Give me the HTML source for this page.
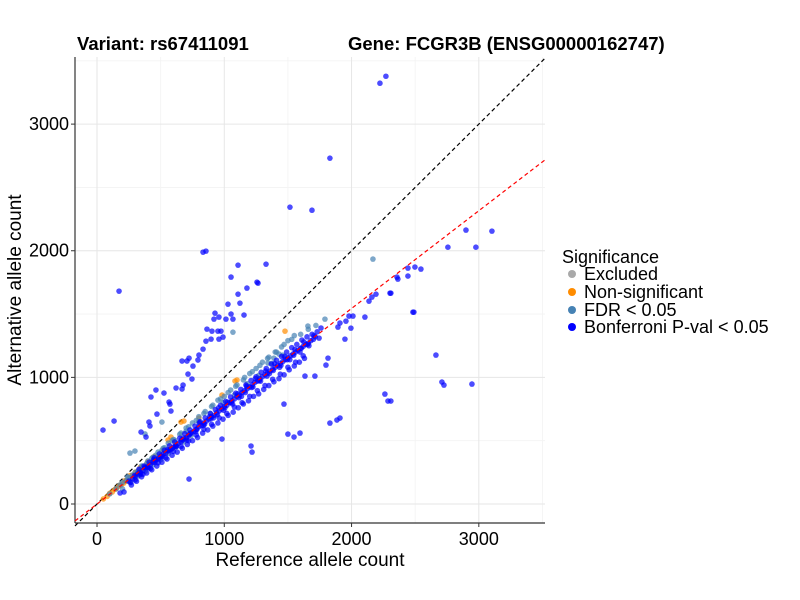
<!DOCTYPE html>
<html><head><meta charset="utf-8"><style>
body{margin:0;background:#fff;font-family:"Liberation Sans",Arial,sans-serif}
svg{display:block}
</style></head><body>
<svg id="chart" width="800" height="600">
<text x="77" y="50" font-size="18.5" font-weight="bold">Variant: rs67411091</text>
<text x="348" y="50" font-size="18.5" font-weight="bold">Gene: FCGR3B (ENSG00000162747)</text>
<g id="grid"></g>
<g id="lines"></g>
<g id="points"></g>
<g id="axes"></g>
<text x="310" y="566" font-size="19" text-anchor="middle">Reference allele count</text>
<text transform="translate(21,290) rotate(-90)" font-size="19" text-anchor="middle">Alternative allele count</text>
<g>
<text x="562" y="263" font-size="18">Significance</text>
<g><circle cx="572" cy="274" r="4" fill="#a9a9a9"/><text x="584" y="280" font-size="18">Excluded</text></g>
<g><circle cx="572" cy="292" r="4" fill="#ff8c00"/><text x="584" y="298" font-size="18">Non-significant</text></g>
<g><circle cx="572" cy="310" r="4" fill="#4682b4"/><text x="584" y="316" font-size="18">FDR &lt; 0.05</text></g>
<g><circle cx="572" cy="327" r="4" fill="#0000ff"/><text x="584" y="333" font-size="18">Bonferroni P-val &lt; 0.05</text></g>
</g>
</svg>
<script>
const xTicks=[0,1000,2000,3000];
const yTicks=[0,1000,2000,3000];
const minorTicks=[500,1500,2500,3500];
const redSlope=0.772;
const blueX=[2270,2223,1830,1516,1689,833,856,173,1108,1265,2977,3103,1328,1053,1257,1178,1108,1029,1123,927,958,919,1013,1053,1068,1155,864,903,950,974,990,958,856,896,833,801,793,754,723,668,707,715,746,621,676,668,463,526,424,566,573,471,581,408,416,134,47,346,385,723,1210,1218,982,1500,1548,1469,1634,1712,1830,1885,1909,2262,2286,2309,2482,2302,1948,1799,1815,1995,2105,2011,2899,2757,2443,2498,2545,2443,2357,2364,2309,2192,2160,2137,1980,1956,1909,1893,2490,2726,2663,2710,2946,1595,181,212,
250,280,300,320,340,360,380,400,420,440,460,480,500,520,540,560,580,600,620,640,660,680,700,720,740,760,780,800,820,840,860,880,900,920,940,960,980,1000,1020,1040,1060,1080,1100,1120,1140,1160,1180,1200,1220,1240,1260,1280,1300,1320,1340,1360,1380,1400,1420,1440,1460,1480,1500,1520,1540,1560,1580,1600,1620,1640,1660,1680,1700,
270,310,350,390,430,470,510,550,590,630,670,710,750,790,830,870,910,950,990,1030,1070,1110,1150,1190,1230,1270,1310,1350,1390,1430,1470,1510,1550,1590,1630,
330,370,410,450,490,530,570,610,650,690,730,770,810,850,890,930,970,1010,1050,1090,1130,1170,1210,1250,1290,1330,1370,1410,1450,1490,1530,1570,1610,1650,1690,1730,1760,
265,295,335,375,405,445,485,515,555,595,625,665,705,735,775,805,845,885,915,955,995,1025,1065,1105,1135,1175,1215,1245,1285,1325,1355,1395,1435,1475,1515,1555,1595,1625,1665,1705,1745,
300,360,420,480,540,600,660,720,780,840,900,960,1020,1080,1140,1200,1260,1320,1380,1440,1500,1560,1620,
345,395,455,505,565,615,675,725,785,835,895,945,1005,1055,1115,1165,1225,1275,1335,1385,1445,1495,1545,1605,1655,1715];
const blueY=[3378,3323,2731,2344,2320,1989,1997,1681,1886,1744,2028,2155,1894,1792,1752,1705,1657,1578,1586,1507,1476,1460,1460,1500,1460,1492,1381,1365,1365,1365,1318,1302,1286,1302,1223,1176,1137,1089,1152,1129,1129,1026,987,916,939,908,900,876,845,805,789,710,734,647,616,655,584,568,529,197,458,410,513,552,529,789,1010,1010,639,663,679,868,813,813,1515,1665,1302,1097,1152,1389,1476,1484,2163,2028,1863,1871,1855,1800,1792,1776,1665,1657,1634,1602,1484,1444,1429,1397,1515,939,1176,963,947,560,87,95,
180,200,215,240,250,265,285,295,310,330,345,355,370,395,400,420,430,450,460,480,490,520,525,545,560,575,590,610,620,640,655,670,690,700,720,735,750,770,780,800,815,830,850,860,880,895,910,925,940,960,970,990,1005,1020,1035,1050,1065,1080,1095,1110,1125,1140,1155,1170,1185,1200,1215,1230,1245,1260,1270,1290,1300,
150,180,215,245,270,300,330,355,385,410,440,470,500,525,560,585,615,640,670,700,725,760,790,815,850,870,905,935,965,990,1020,1060,1090,1120,1150,
275,300,330,365,395,425,460,490,520,555,585,615,650,680,715,745,780,810,845,875,905,940,975,1005,1040,1070,1105,1135,1165,1200,1235,1260,1295,1320,1340,1360,1390,
170,225,230,290,285,350,360,375,430,440,455,510,505,560,570,640,630,690,680,760,740,805,790,870,850,930,920,990,970,1050,1030,1110,1080,1165,1140,1220,1200,1280,1250,1330,1310,
190,235,280,325,365,415,455,500,545,590,630,680,715,765,800,850,895,935,985,1025,1080,1120,1170,
240,290,330,380,420,455,505,545,590,620,675,705,760,800,840,880,925,975,1010,1055,1095,1140,1175,1230,1260,1320];
const fdrX=[100,150,180,200,230,250,280,300,330,360,400,440,480,520,560,600,650,700,750,800,850,900,950,1000,1050,1100,1150,1200,1250,1300,1350,1400,1450,1500,1550,200,260,320,380,440,500,560,620,680,740,2168,1791,1657,1068,510,377,259,298,1390,1430,1343,
320,390,460,530,590,660,720,780,840,910,970,1030,1090,1160,1220,1280,1340,1410,1470,1530,1600,1660,1720,
240,350,430,510,610,700,800,890,990,1080,1180,1270,1370,1460];
const fdrY=[80,120,150,170,185,210,230,250,270,300,340,370,410,440,480,510,550,600,640,690,730,770,820,850,900,940,980,1030,1070,1120,1160,1200,1240,1290,1330,120,170,220,260,310,350,400,450,490,540,1934,1460,1405,1357,647,553,402,418,1152,1184,1113,
255,320,385,445,500,560,610,660,715,780,830,880,930,1000,1045,1095,1150,1200,1260,1300,1340,1380,1410,
215,300,360,425,505,575,650,715,800,860,950,1015,1110,1175];
const nsX=[50,80,120,150,170,190,210,230,250,270,290,320,350,380,420,460,500,540,580,620,700,1477,1100,982,660,683,558,581,801,1084,100,140,180,220,260,300,340,400,450,520];
const nsY=[40,60,95,120,140,150,165,180,200,210,230,260,280,300,330,350,380,410,440,470,520,1365,979,860,647,655,505,529,679,971,85,115,150,185,225,250,290,335,375,430];
const X0=75,X1=545,Y0=523,Y1=57,xmin=-173,xmax=3520,ymin=-150,ymax=3530;
function sx(v){return X0+(v-xmin)/(xmax-xmin)*(X1-X0);}
function sy(v){return Y0-(v-ymin)/(ymax-ymin)*(Y0-Y1);}
const NS="http://www.w3.org/2000/svg";
function mk(tag,attrs,parent){const e=document.createElementNS(NS,tag);for(const k in attrs)e.setAttribute(k,attrs[k]);parent.appendChild(e);return e;}
const grid=document.getElementById('grid');
minorTicks.forEach(t=>{
 const a=mk('line',{x1:sx(t),x2:sx(t),y1:Y1,y2:Y0,stroke:'#f3f3f3','stroke-width':0.8},grid);
 
 
 const b=mk('line',{x1:X0,x2:X1,y1:sy(t),y2:sy(t),stroke:'#f3f3f3','stroke-width':0.8},grid);
 
 
});
xTicks.forEach(t=>{
 const a=mk('line',{x1:sx(t),x2:sx(t),y1:Y1,y2:Y0,stroke:'#e6e6e6','stroke-width':1},grid);
 
 
});
yTicks.forEach(t=>{
 const b=mk('line',{x1:X0,x2:X1,y1:sy(t),y2:sy(t),stroke:'#e6e6e6','stroke-width':1},grid);
 
 
});
const lines=document.getElementById('lines');
const ident=mk('line',{x1:sx(xmin),y1:sy(xmin),x2:sx(ymax),y2:sy(ymax),stroke:'#000','stroke-width':1.2,'stroke-dasharray':'4,3'},lines);


const pts=document.getElementById('points');
function draw(xs,ys,color,name){
 for(let i=0;i<xs.length;i++){
  const c=mk('circle',{cx:sx(xs[i]),cy:sy(ys[i]),r:2.8,fill:color,'fill-opacity':0.7},pts);
  
  
 }
}
draw(nsX,nsY,'#ff8c00','point-non-significant');
draw(fdrX,fdrY,'#4682b4','point-fdr');
draw(blueX,blueY,'#0000ff','point-bonferroni');
const red=mk('line',{x1:sx(xmin),y1:sy(xmin*redSlope),x2:sx(xmax),y2:sy(xmax*redSlope),stroke:'#ff0000','stroke-width':1.2,'stroke-dasharray':'4,3'},document.getElementById('chart'));


const axes=document.getElementById('axes');
mk('line',{x1:X0,x2:X0,y1:Y1,y2:Y0,stroke:'#333','stroke-width':1.2},axes);
mk('line',{x1:X0,x2:X1,y1:Y0,y2:Y0,stroke:'#333','stroke-width':1.2},axes);
xTicks.forEach(t=>{
 mk('line',{x1:sx(t),x2:sx(t),y1:Y0,y2:Y0+4,stroke:'#333'},axes);
 const tx=mk('text',{x:sx(t),y:Y0+22,'font-size':18,'text-anchor':'middle'},axes);
 tx.textContent=t;
 
 
});
yTicks.forEach(t=>{
 mk('line',{x1:X0-4,x2:X0,y1:sy(t),y2:sy(t),stroke:'#333'},axes);
 const tx=mk('text',{x:X0-6,y:sy(t)+6,'font-size':18,'text-anchor':'end'},axes);
 tx.textContent=t;
 
 
});
</script>
</body></html>
